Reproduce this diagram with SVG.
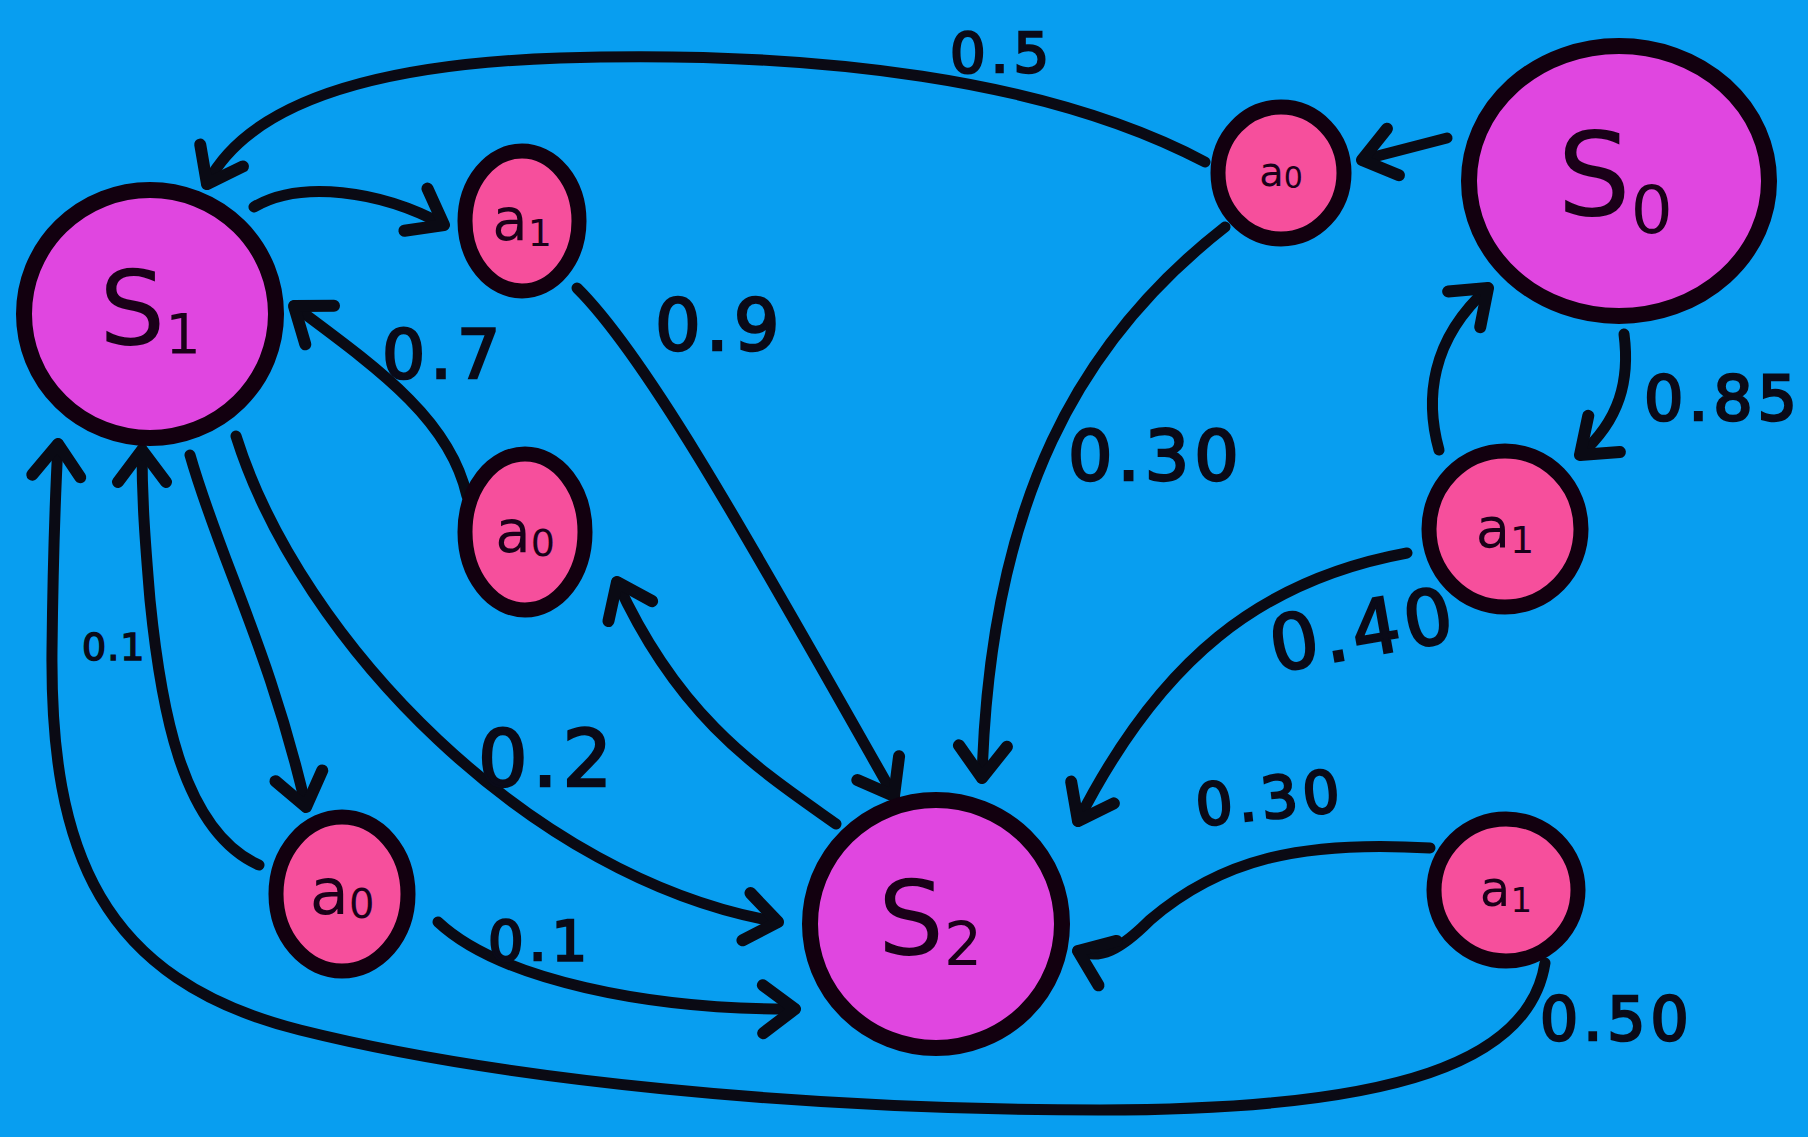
<svg xmlns="http://www.w3.org/2000/svg" width="1808" height="1137" viewBox="0 0 1808 1137">
<defs>
<style>
.bg{fill:#089ef0}
.st{fill:#e046e0;stroke:#12000f;stroke-width:16}
.ac{fill:#f64f9c;stroke:#12000f;stroke-width:15}
.e{fill:none;stroke:#0a0a14;stroke-width:11;stroke-linecap:round}
.lbl{font-family:"DejaVu Sans",sans-serif;fill:#0a0a18;stroke:#0a0a18;stroke-width:2.5;letter-spacing:5px}
.sl{font-family:"DejaVu Sans",sans-serif;fill:#1a0018;text-anchor:middle}
</style>
<marker id="ah" markerUnits="userSpaceOnUse" markerWidth="70" markerHeight="70" viewBox="-45 -35 55 70" refX="0" refY="0" orient="auto">
<path d="M -32 -24 L 0 0 L -32 24" fill="none" stroke="#0a0a14" stroke-width="12" stroke-linecap="round" stroke-linejoin="round"/>
</marker>
</defs>
<rect class="bg" x="0" y="0" width="1808" height="1137"/>
<g id="connectors">
<path class="e" marker-end="url(#ah)" d="M 1205 162 C 1050 80, 820 50, 560 58 C 380 64, 250 100, 207 184"/>
<path class="e" marker-end="url(#ah)" d="M 1447 138 L 1362 160"/>
<path class="e" marker-end="url(#ah)" d="M 254 207 C 300 180, 380 190, 444 225"/>
<path class="e" marker-end="url(#ah)" d="M 577 288 C 650 360, 760 560, 894 796"/>
<path class="e" marker-end="url(#ah)" d="M 467 496 C 450 420, 380 370, 294 306"/>
<path class="e" marker-end="url(#ah)" d="M 836 824 C 760 770, 680 720, 617 582"/>
<path class="e" marker-end="url(#ah)" d="M 1225 227 C 1080 340, 990 500, 982 778"/>
<path class="e" marker-end="url(#ah)" d="M 1624 334 C 1630 380, 1620 420, 1580 455"/>
<path class="e" marker-end="url(#ah)" d="M 1439 450 C 1425 400, 1430 340, 1488 288"/>
<path class="e" marker-end="url(#ah)" d="M 1407 553 C 1260 580, 1160 660, 1078 821"/>
<path class="e" marker-end="url(#ah)" d="M 1430 848 C 1300 840, 1220 860, 1150 920 C 1120 950, 1100 960, 1078 951"/>
<path class="e" marker-end="url(#ah)" d="M 1545 963 C 1530 1060, 1400 1110, 1100 1110 C 800 1110, 500 1080, 300 1030 C 100 980, 50 850, 52 650 C 53 560, 55 500, 58 444"/>
<path class="e" marker-end="url(#ah)" d="M 190 455 C 220 560, 270 650, 306 807"/>
<path class="e" marker-end="url(#ah)" d="M 259 865 C 180 830, 160 700, 150 600 C 145 540, 142 500, 142 450"/>
<path class="e" marker-end="url(#ah)" d="M 236 436 C 300 640, 530 880, 778 922"/>
<path class="e" marker-end="url(#ah)" d="M 438 922 C 500 980, 650 1010, 795 1009"/>
</g>
<g id="labels">
<text class="lbl" x="950" y="72" font-size="56">0.5</text>
<text class="lbl" x="655" y="350" font-size="72">0.9</text>
<text class="lbl" x="382" y="378" font-size="68">0.7</text>
<text class="lbl" x="1068" y="480" font-size="70">0.30</text>
<text class="lbl" x="1644" y="420" font-size="62">0.85</text>
<text class="lbl" x="1275" y="672" font-size="76" transform="rotate(-10 1275 672)">0.40</text>
<text class="lbl" x="1198" y="826" font-size="58" transform="rotate(-6 1198 826)">0.30</text>
<text class="lbl" x="1540" y="1040" font-size="60">0.50</text>
<text class="lbl" x="82" y="660" font-size="38" style="letter-spacing:1px;stroke-width:1.5">0.1</text>
<text class="lbl" x="478" y="786" font-size="78">0.2</text>
<text class="lbl" x="488" y="960" font-size="56">0.1</text>
</g>
<g id="S1"><ellipse class="st" cx="150" cy="314" rx="126" ry="124"/><text class="sl" x="150" y="345" font-size="104">S<tspan font-size="56" dy="8">1</tspan></text></g>
<g id="a1_top"><ellipse class="ac" cx="522" cy="221" rx="57" ry="70"/><text class="sl" x="522" y="240" font-size="58">a<tspan font-size="38" dy="6">1</tspan></text></g>
<g id="a0_mid"><ellipse class="ac" cx="525" cy="532" rx="60" ry="78"/><text class="sl" x="525" y="552" font-size="58">a<tspan font-size="38" dy="4">0</tspan></text></g>
<g id="a0_bl"><ellipse class="ac" cx="342" cy="894" rx="66" ry="77"/><text class="sl" x="342" y="914" font-size="64">a<tspan font-size="40" dy="4">0</tspan></text></g>
<g id="S2"><ellipse class="st" cx="936" cy="924" rx="126" ry="124"/><text class="sl" x="930" y="955" font-size="104">S<tspan font-size="60" dy="10">2</tspan></text></g>
<g id="a0_tr"><ellipse class="ac" cx="1281" cy="173" rx="63" ry="66"/><text class="sl" x="1281" y="186" font-size="40">a<tspan font-size="30" dy="2">0</tspan></text></g>
<g id="S0"><ellipse class="st" cx="1619" cy="181" rx="150" ry="135"/><text class="sl" x="1615" y="215" font-size="116">S<tspan font-size="66" dy="18">0</tspan></text></g>
<g id="a1_rm"><ellipse class="ac" cx="1505" cy="529" rx="76" ry="78"/><text class="sl" x="1505" y="547" font-size="56">a<tspan font-size="38" dy="6">1</tspan></text></g>
<g id="a1_br"><ellipse class="ac" cx="1506" cy="890" rx="72" ry="71"/><text class="sl" x="1506" y="906" font-size="50">a<tspan font-size="34" dy="6">1</tspan></text></g>
</svg>
